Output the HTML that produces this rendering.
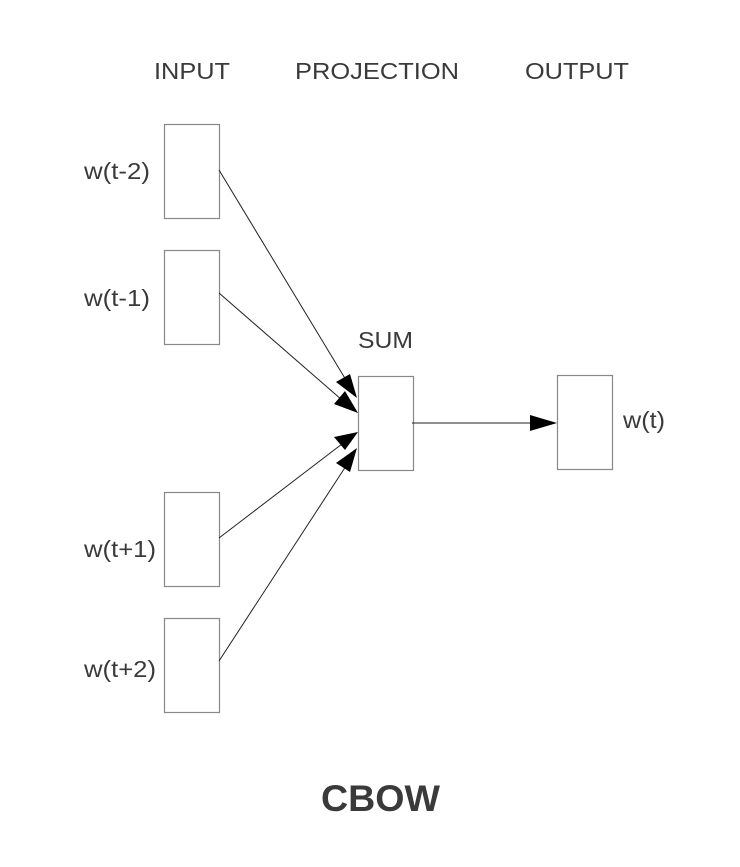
<!DOCTYPE html>
<html><head><style>html,body{margin:0;padding:0;background:#fff}</style></head>
<body>
<svg width="740" height="862" viewBox="0 0 740 862" xmlns="http://www.w3.org/2000/svg">
<g fill="#fff" stroke="#888" stroke-width="1.2">
<rect x="164.5" y="124.5" width="55" height="94"/>
<rect x="164.5" y="250.5" width="55" height="94"/>
<rect x="164.5" y="492.5" width="55" height="94"/>
<rect x="164.5" y="618.5" width="55" height="94"/>
<rect x="358.5" y="376.5" width="55" height="94"/>
<rect x="557.5" y="375.5" width="55" height="94"/>
</g>
<g stroke="#222" stroke-width="1">
<line x1="219" y1="170" x2="346" y2="380"/>
<line x1="219" y1="293" x2="342" y2="400"/>
<line x1="219" y1="538" x2="342" y2="444"/>
<line x1="219" y1="661" x2="346" y2="466"/>
<line x1="412" y1="423" x2="535" y2="423"/>
</g>
<g fill="#000">
<polygon points="357,398 336,382 350,374"/>
<polygon points="358,413 334,404 345,391"/>
<polygon points="358,432 345,450 334,437"/>
<polygon points="357,448 350,472 336,463"/>
<polygon points="557,423 530,415 530,431"/>
</g>
<g font-family="Liberation Sans, Arial, sans-serif" font-size="23" fill="#3a3a3a">
<text x="154" y="79" textLength="76" lengthAdjust="spacingAndGlyphs">INPUT</text>
<text x="295" y="79" textLength="164" lengthAdjust="spacingAndGlyphs">PROJECTION</text>
<text x="525" y="79" textLength="104" lengthAdjust="spacingAndGlyphs">OUTPUT</text>
<text x="84" y="179" textLength="66" lengthAdjust="spacingAndGlyphs">w(t-2)</text>
<text x="84" y="306" textLength="66" lengthAdjust="spacingAndGlyphs">w(t-1)</text>
<text x="84" y="557" textLength="72" lengthAdjust="spacingAndGlyphs">w(t+1)</text>
<text x="84" y="677" textLength="72" lengthAdjust="spacingAndGlyphs">w(t+2)</text>
<text x="358" y="348" textLength="55" lengthAdjust="spacingAndGlyphs">SUM</text>
<text x="623" y="428" textLength="42" lengthAdjust="spacingAndGlyphs">w(t)</text>
<text x="321" y="811" font-size="37" font-weight="bold" textLength="119" lengthAdjust="spacingAndGlyphs">CBOW</text>
</g>
</svg>
</body></html>
